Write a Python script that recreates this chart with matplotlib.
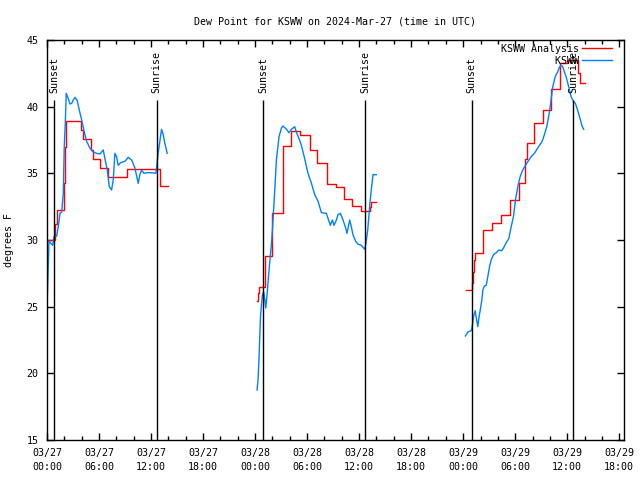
import numpy as np
import matplotlib
matplotlib.use("Agg")
import matplotlib.pyplot as plt
from matplotlib.ticker import MultipleLocator

plt.rcParams['font.family'] = ['DejaVu Sans Mono']
FS = 7.2

# hours since 03/27 00:00 UTC
obs_t1 = [0.0, 0.23, 0.66, 0.81, 1.12, 1.3, 1.5, 1.69, 1.88, 1.99, 2.11, 2.22, 2.45, 2.65, 2.85,
          3.03, 3.23, 3.49, 3.72, 4.0, 4.3, 4.57, 4.95, 5.33, 5.73, 6.11, 6.49, 6.68, 6.95, 7.18,
          7.45, 7.64, 7.83, 8.03, 8.21, 8.49, 8.99, 9.37, 9.76, 10.14, 10.52, 10.71, 10.91, 11.18,
          11.56, 12.06, 12.56, 12.82, 13.21, 13.4, 13.59, 13.86]
obs_v1 = [24.8, 29.9, 29.6, 30.25, 30.3, 31.0, 32.0, 32.1, 33.5, 37.0, 38.75, 41.0, 40.6, 40.2, 40.25,
          40.5, 40.7, 40.45, 39.75, 39.0, 38.1, 37.4, 36.9, 36.6, 36.5, 36.45, 36.75, 36.1, 35.25, 34.0,
          33.75, 34.5, 36.5, 36.25, 35.6, 35.8, 35.9, 36.2, 36.0, 35.4, 34.25, 34.9, 35.25, 35.0,
          35.05, 35.05, 35.0, 36.5, 38.3, 37.9, 37.25, 36.5]

obs_t2 = [24.23, 24.34, 24.46, 24.62, 24.73, 24.85, 25.0, 25.12, 25.23, 25.38, 25.61, 25.89, 26.0,
          26.27, 26.46, 26.76, 27.04, 27.22, 27.62, 27.91, 28.19, 28.57, 28.76, 29.07, 29.34, 29.72,
          30.1, 30.5, 30.88, 31.26, 31.65, 32.22, 32.68, 32.91, 33.1, 33.38, 33.56, 33.84, 34.14,
          34.45, 34.6, 34.91, 35.1, 35.29, 35.6, 35.86, 36.26, 36.64, 36.8, 37.0, 37.21, 37.4, 37.6, 37.98]
obs_v2 = [18.75, 19.5, 21.25, 24.25, 25.1, 25.9, 26.1, 25.5, 24.9, 25.9, 27.75, 29.75, 30.75,
          33.75, 36.0, 37.75, 38.4, 38.55, 38.3, 38.05, 38.3, 38.5, 38.1, 37.6, 37.1, 36.1,
          35.0, 34.25, 33.4, 32.9, 32.05, 32.0, 31.1, 31.5, 31.1, 31.5, 31.9, 32.0, 31.5,
          30.9, 30.5, 31.5, 31.0, 30.4, 29.9, 29.7, 29.6, 29.3, 29.8, 30.8, 32.5, 33.75, 34.9, 34.9]

obs_t3 = [48.27, 48.54, 48.93, 49.04, 49.19, 49.39, 49.5, 49.69, 49.8, 49.97, 50.15, 50.27, 50.46,
          50.66, 50.84, 51.04, 51.23, 51.5, 51.81, 52.11, 52.45, 52.65, 52.96, 53.26, 53.54, 53.8,
          54.03, 54.3, 54.57, 54.87, 55.33, 55.84, 56.22, 56.6, 57.11, 57.37, 57.64, 57.95, 58.14,
          58.33, 58.64, 58.9, 59.1, 59.29, 59.48, 59.68, 59.87, 60.17, 60.45, 60.71, 60.94, 61.2,
          61.48, 61.71, 61.9]
obs_v3 = [22.8, 23.1, 23.2, 23.5, 24.25, 24.7, 24.2, 23.5, 24.1, 24.75, 25.5, 26.25, 26.55,
          26.6, 27.25, 28.0, 28.5, 28.9, 29.05, 29.25, 29.2, 29.4, 29.8, 30.1, 31.0, 31.75,
          33.0, 34.0, 34.75, 35.25, 35.75, 36.25, 36.5, 36.9, 37.4, 37.9, 38.5, 39.6, 40.5,
          41.5, 42.3, 42.6, 42.95, 43.1, 43.0, 42.6, 42.25, 41.5, 40.75, 40.4, 40.25, 39.75,
          39.1, 38.55, 38.3]

ana_t1 = [0.0, 0.92, 1.15, 1.96, 2.07, 2.22, 3.95, 4.18, 5.03, 5.26, 6.1, 7.03, 9.18, 13.02, 13.97]
ana_v1 = [30.0, 31.2, 32.25, 34.25, 37.0, 38.9, 38.25, 37.55, 36.75, 36.1, 35.4, 34.75, 35.3, 34.05, 34.05]

ana_t2 = [24.23, 24.34, 24.48, 25.12, 25.95, 27.22, 28.19, 29.15, 30.3, 31.16, 32.26, 33.29,
          34.22, 35.2, 36.18, 37.21, 37.41, 37.98]
ana_v2 = [25.4, 26.0, 26.5, 28.8, 32.05, 37.05, 38.2, 37.9, 36.75, 35.8, 34.2, 34.0,
          33.05, 32.55, 32.2, 32.5, 32.85, 32.85]

ana_t3 = [48.35, 49.04, 49.11, 49.27, 49.34, 50.27, 51.27, 52.38, 53.42, 54.41, 55.18, 55.33,
          56.22, 57.18, 58.18, 59.22, 60.0, 61.29, 61.49, 62.1]
ana_v3 = [26.25, 26.75, 27.6, 28.5, 29.0, 30.75, 31.3, 31.9, 33.0, 34.3, 36.1, 37.3,
          38.75, 39.75, 41.3, 43.25, 43.5, 42.5, 41.75, 41.75]

sunset = [0.82, 24.92, 49.0]
sunrise = [12.64, 36.69, 60.71]

tick_hours = list(range(0, 67, 6))
tick_labels = ['03/27\n00:00', '03/27\n06:00', '03/27\n12:00', '03/27\n18:00',
               '03/28\n00:00', '03/28\n06:00', '03/28\n12:00', '03/28\n18:00',
               '03/29\n00:00', '03/29\n06:00', '03/29\n12:00', '03/29\n18:00']

red = '#ff0000'
blue = '#0080ff'

fig = plt.figure(figsize=(6.4, 4.8), dpi=100)
ax = fig.add_axes([47/640, 40/480, 577/640, 400/480])

# analysis (stepped) and observations
for i, (t, v) in enumerate([(ana_t1, ana_v1), (ana_t2, ana_v2), (ana_t3, ana_v3)]):
    ax.plot(t, v, color=red, lw=1.0, drawstyle='steps-post',
            label='KSWW Analysis' if i == 0 else None)
for i, (t, v) in enumerate([(obs_t1, obs_v1), (obs_t2, obs_v2), (obs_t3, obs_v3)]):
    ax.plot(t, v, color=blue, lw=1.0, label='         KSWW' if i == 0 else None)

# sunrise / sunset markers
ax.vlines(sunset + sunrise, 15, 40.5, color='black', lw=1.0)
for t in sunset:
    ax.text(t, 41.0, 'Sunset', rotation=90, ha='center', va='bottom', fontsize=FS)
for t in sunrise:
    ax.text(t, 41.0, 'Sunrise', rotation=90, ha='center', va='bottom', fontsize=FS)

ax.set_xlim(0, 66.55)
ax.set_ylim(15, 45)
ax.set_xticks(tick_hours)
ax.set_xticklabels(tick_labels, fontsize=FS, linespacing=1.5)
ax.xaxis.set_minor_locator(MultipleLocator(2))
ax.set_yticks(range(15, 46, 5))
ax.tick_params(axis='y', labelsize=FS)
ax.tick_params(which='both', direction='in', top=True, right=True, width=1)
ax.tick_params(which='major', length=5, pad=6)
ax.tick_params(which='minor', length=3)
for s in ax.spines.values():
    s.set_linewidth(1)

ax.set_ylabel('degrees F', fontsize=FS, labelpad=9)
ax.set_title('Dew Point for KSWW on 2024-Mar-27 (time in UTC)', fontsize=FS, pad=11)

ax.legend(loc='upper right', bbox_to_anchor=(0.979, 0.99), frameon=False, markerfirst=False,
          fontsize=FS, borderpad=0, borderaxespad=0, handlelength=3.0, handletextpad=0.3,
          labelspacing=0.2)

fig.savefig('out.png', dpi=100)
